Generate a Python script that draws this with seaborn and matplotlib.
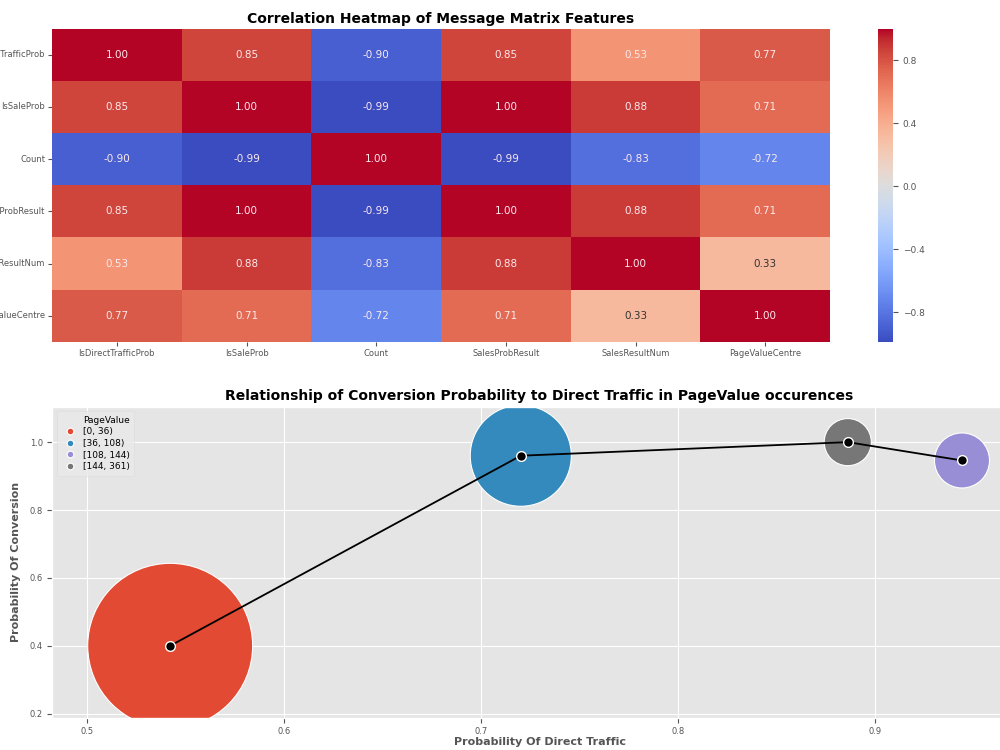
import numpy as np
import pandas as pd
import matplotlib
matplotlib.use("Agg")
import matplotlib.pyplot as plt
import seaborn as sns

plt.style.use("ggplot")

# ---- data ----
features = ["IsDirectTrafficProb", "IsSaleProb", "Count", "SalesProbResult",
            "SalesResultNum", "PageValueCentre"]
corr_rows = [
    [1.00, 0.85, -0.90, 0.85, 0.53, 0.77],
    [0.85, 1.00, -0.99, 1.00, 0.88, 0.71],
    [-0.90, -0.99, 1.00, -0.99, -0.83, -0.72],
    [0.85, 1.00, -0.99, 1.00, 0.88, 0.71],
    [0.53, 0.88, -0.83, 0.88, 1.00, 0.33],
    [0.77, 0.71, -0.72, 0.71, 0.33, 1.00],
]
page_value_bins = ["[0, 36)", "[36, 108)", "[108, 144)", "[144, 361)"]
direct_traffic_prob = [0.542, 0.720, 0.944, 0.886]
conversion_prob = [0.400, 0.960, 0.946, 1.000]
occurrence_count = [14100, 5300, 1570, 1150]

corr = pd.DataFrame(corr_rows, index=features, columns=features)
df = pd.DataFrame({
    "PageValue": page_value_bins,
    "DirectTraffic": direct_traffic_prob,
    "Conversion": conversion_prob,
    "Count": occurrence_count,
})

fig = plt.figure(figsize=(10, 7.5), dpi=100)
fig.patch.set_facecolor("white")

# ---- heatmap ----
ax1 = fig.add_axes([0.052, 0.544, 0.778, 0.418])
cax = fig.add_axes([0.878, 0.544, 0.015, 0.418])
sns.heatmap(corr, ax=ax1, cbar_ax=cax, cmap="coolwarm", annot=True, fmt=".2f",
            annot_kws={"fontsize": 7.5})
ax1.grid(False)
for t in ax1.texts:
    if abs(float(t.get_text())) >= 0.5:
        t.set_color("#FBE9EC")
    else:
        t.set_color("#333333")
ax1.set_title("Correlation Heatmap of Message Matrix Features",
              fontsize=10, fontweight="bold", color="black", pad=4)
ax1.tick_params(axis="both", labelsize=6, colors="#555555", pad=2, length=3)
plt.setp(ax1.get_yticklabels(), rotation=0)
plt.setp(ax1.get_xticklabels(), rotation=0)
cax.tick_params(labelsize=6.5, colors="#555555")
cax.set_yticks([-0.8, -0.4, 0.0, 0.4, 0.8])

# ---- bubble chart ----
ax2 = fig.add_axes([0.052, 0.043, 0.975, 0.415])
palette = ["#E24A33", "#348ABD", "#988ED5", "#777777"]
sns.scatterplot(data=df, x="DirectTraffic", y="Conversion", hue="PageValue",
                hue_order=page_value_bins, palette=palette, size="Count",
                sizes=(1150, 14100), ax=ax2, edgecolor="white", linewidth=0.8,
                alpha=1.0, zorder=2)
sns.lineplot(data=df, x="DirectTraffic", y="Conversion", ax=ax2, color="black",
             linewidth=1.3, marker="o", markersize=7, markerfacecolor="black",
             markeredgecolor="white", markeredgewidth=1, zorder=3)

handles, labels = ax2.get_legend_handles_labels()
leg = ax2.legend(handles[:5], labels[:5], loc="upper left", fontsize=6.5,
                 frameon=True, borderpad=0.5, handletextpad=0.4, labelspacing=0.3,
                 markerscale=0.8)
leg.get_frame().set_facecolor("#E9E9E9")
leg.get_frame().set_edgecolor("#DDDDDD")

ax2.set_xlim(0.482, 0.977)
ax2.set_ylim(0.188, 1.105)
ax2.set_xticks([0.5, 0.6, 0.7, 0.8, 0.9])
ax2.set_yticks([0.2, 0.4, 0.6, 0.8, 1.0])
ax2.set_xticklabels(["0.5", "0.6", "0.7", "0.8", "0.9"])
ax2.set_yticklabels(["0.2", "0.4", "0.6", "0.8", "1.0"])
ax2.tick_params(axis="both", labelsize=6, colors="#555555", pad=3)
ax2.set_title("Relationship of Conversion Probability to Direct Traffic in PageValue occurences",
              fontsize=10, fontweight="bold", color="black", pad=5)
ax2.set_xlabel("Probability Of Direct Traffic", fontsize=8, fontweight="bold",
               color="#555555", labelpad=1)
ax2.set_ylabel("Probability Of Conversion", fontsize=8, fontweight="bold",
               color="#555555", labelpad=6)

fig.savefig("out.png", dpi=100)
